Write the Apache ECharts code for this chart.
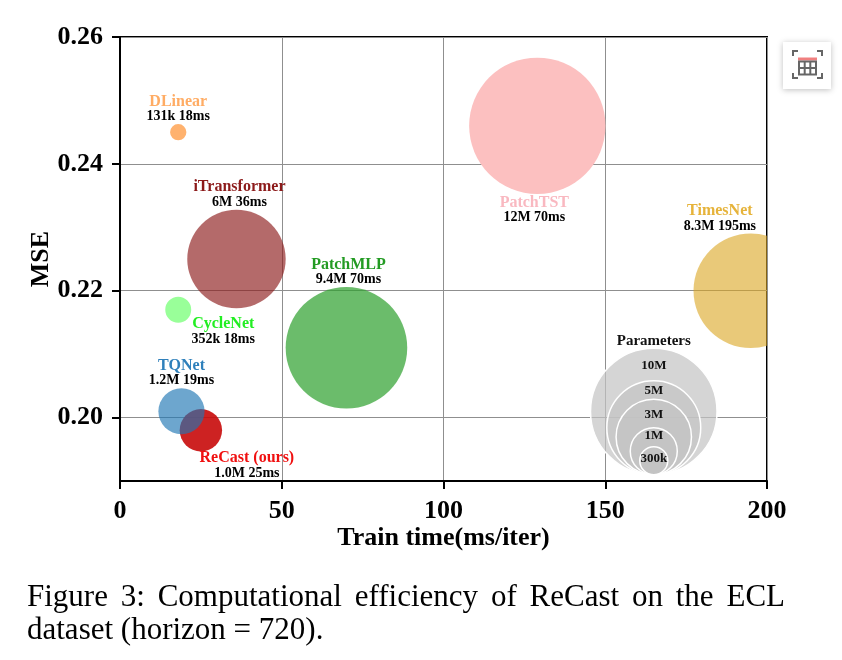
<!DOCTYPE html>
<html lang="en">
  <head>
    <meta charset="UTF-8" />
    <meta name="viewport" content="width=device-width, initial-scale=1.0" />
    <title>ReCast efficiency</title>
    <script src="https://cdn.jsdelivr.net/npm/echarts@6.0.0/dist/echarts.min.js"></script>
    <style>
      html, body { margin: 0; padding: 0; background: #fff; }
    </style>
  </head>
  <body>
    <div id="main" style="width: 842px; height: 660px"></div>
    <script type="text/javascript">
      // values
      var models = ["DLinear", "iTransformer", "CycleNet", "ReCast (ours)", "TQNet", "PatchMLP", "PatchTST", "TimesNet"];
      var trainTime = [18, 36, 18, 25, 19, 70, 129, 195]; // where the bubble sits on x
      var mse = [0.245, 0.225, 0.217, 0.198, 0.201, 0.211, 0.246, 0.22];
      var paramsM = [0.131, 6, 0.352, 1.0, 1.2, 9.4, 12, 8.3];
      var paramText = ["131k", "6M", "352k", "1.0M", "1.2M", "9.4M", "12M", "8.3M"];
      var timeText = ["18ms", "36ms", "18ms", "25ms", "19ms", "70ms", "70ms", "195ms"];

      var legendParamsM = [10, 5, 3, 1, 0.3];
      var legendText = ["10M", "5M", "3M", "1M", "300k"];
      var legendAt = [165, 0.191];

      var xTicks = [0, 50, 100, 150, 200];
      var yTicks = [0.2, 0.22, 0.24, 0.26];

      var captionLine1 = "Figure 3: Computational efficiency of ReCast on the ECL";
      var captionLine2 = "dataset (horizon = 720).";

      var FONT = '"Liberation Serif", "Times New Roman", serif';
      var CAP_FONT = '31px "Liberation Serif"';

      var bubbleColor = {
        "DLinear": "rgba(255,127,14,0.6)",
        "iTransformer": "rgba(140,26,26,0.65)",
        "CycleNet": "rgba(0,255,0,0.4)",
        "ReCast (ours)": "rgba(200,10,10,0.9)",
        "TQNet": "rgba(31,119,180,0.65)",
        "PatchMLP": "rgba(44,160,44,0.7)",
        "PatchTST": "#fcc0c0",
        "TimesNet": "rgba(218,165,32,0.6)"
      };
      var labelColor = {
        "DLinear": "#ffac64",
        "iTransformer": "#8c1a1a",
        "CycleNet": "#22ee22",
        "ReCast (ours)": "#f01010",
        "TQNet": "#2f80bb",
        "PatchMLP": "#239b23",
        "PatchTST": "#f9b8c0",
        "TimesNet": "#e6b33a"
      };
      // where the label block sits relative to the bubble: side, x nudge, y nudge (px)
      var labelPlace = {
        "DLinear": ["top", 0, 0],
        "iTransformer": ["top", 3, 0],
        "CycleNet": ["below", 45, -1],
        "ReCast (ours)": ["below", 46, 4],
        "TQNet": ["top", 0, 0],
        "PatchMLP": ["top", 2, 0],
        "PatchTST": ["bottom", -3, 0],
        "TimesNet": ["top", -31, 0]
      };

      function bubbleD(p) { return 42.4 * Math.pow(p, 0.47); }
      function legendD(p) { return 47 * Math.pow(p, 0.43); }

      // first caption line is justified like the paper column
      function justifiedWords(text, left, right, y) {
        var ctx = document.createElement("canvas").getContext("2d");
        ctx.font = CAP_FONT;
        var words = text.split(" ");
        var widths = words.map(function (w) { return ctx.measureText(w).width; });
        var total = widths.reduce(function (a, b) { return a + b; }, 0);
        var gap = (right - left - total) / (words.length - 1);
        var x = left;
        return words.map(function (w, i) {
          var el = {
            type: "text", x: x, y: y,
            style: { text: w, font: CAP_FONT, fill: "#000", verticalAlign: "middle" }
          };
          x += widths[i] + gap;
          return el;
        });
      }

      var myChart = echarts.init(document.getElementById("main"));

      var option = {
        backgroundColor: "#fff",
        animation: false,
        grid: {
          left: 120, right: 75, top: 37, bottom: 179,
          show: true, borderColor: "#000", borderWidth: 2,
          outerBoundsMode: "none"
        },
        xAxis: {
          type: "value",
          min: 0, max: 200, interval: 50,
          name: "Train time(ms/iter)",
          nameLocation: "middle",
          nameGap: 44,
          nameMoveOverlap: false,
          nameTextStyle: { fontFamily: FONT, fontWeight: "bold", fontSize: 26, color: "#000" },
          axisLine: { show: true, onZero: false, lineStyle: { color: "#000", width: 2 } },
          axisTick: { show: true, length: 8, lineStyle: { color: "#000", width: 2 } },
          axisLabel: { margin: 17, fontFamily: FONT, fontWeight: "bold", fontSize: 26, color: "#000" },
          splitLine: { show: true, lineStyle: { color: "#8f8f8f", width: 1 } }
        },
        yAxis: {
          type: "value",
          min: 0.19, max: 0.26,
          name: "MSE",
          nameLocation: "middle",
          nameGap: 66,
          nameMoveOverlap: false,
          nameTextStyle: { fontFamily: FONT, fontWeight: "bold", fontSize: 26, color: "#000" },
          axisLine: { show: true, onZero: false, lineStyle: { color: "#000", width: 2 } },
          axisTick: { show: true, length: 8, customValues: yTicks, lineStyle: { color: "#000", width: 2 } },
          axisLabel: {
            margin: 17, customValues: yTicks,
            fontFamily: FONT, fontWeight: "bold", fontSize: 26, color: "#000",
            formatter: function (v) { return v.toFixed(2); }
          },
          splitLine: { show: true, lineStyle: { color: "#8f8f8f", width: 1 } }
        },
        series: [
          {
            name: "models",
            type: "custom",
            clip: true,
            data: trainTime.map(function (x, i) { return [x, mse[i], paramsM[i]]; }),
            encode: { x: 0, y: 1 },
            renderItem: function (params, api) {
              var i = params.dataIndex;
              var name = models[i];
              var c = api.coord([api.value(0), api.value(1)]);
              var r = bubbleD(api.value(2)) / 2;
              var place = labelPlace[name];
              var dy = place[0] === "top" ? -(r + 15) : place[0] === "bottom" ? r + 16 : r + 10;
              return {
                type: "group",
                children: [
                  {
                    type: "circle",
                    shape: { cx: c[0], cy: c[1], r: r },
                    style: { fill: bubbleColor[name] }
                  },
                  {
                    type: "text",
                    z2: 100,
                    style: {
                      x: c[0] + place[1],
                      y: c[1] + dy + place[2],
                      align: "center",
                      verticalAlign: "middle",
                      text: "{n|" + name + "}\n{v|" + paramText[i] + " " + timeText[i] + "}",
                      rich: {
                        n: { fontFamily: FONT, fontWeight: "bold", fontSize: 16, lineHeight: 15, fill: labelColor[name], align: "center" },
                        v: { fontFamily: FONT, fontWeight: "bold", fontSize: 14, lineHeight: 15, fill: "#000", align: "center" }
                      }
                    }
                  }
                ]
              };
            }
          },
          {
            name: "size legend",
            type: "custom",
            clip: true,
            data: legendParamsM.map(function (p) { return [legendAt[0], legendAt[1], p]; }),
            encode: { x: 0, y: 1 },
            renderItem: function (params, api) {
              var i = params.dataIndex;
              var b = api.coord([api.value(0), api.value(1)]);
              var d = legendD(api.value(2));
              var top = b[1] - d;
              // label sits in the band between this ring and the next one inside it
              var ly = i < legendParamsM.length - 1
                ? (top + (b[1] - legendD(legendParamsM[i + 1]))) / 2 + 1
                : top + 12;
              if (i === 3) ly -= 3;
              var kids = [
                {
                  type: "circle",
                  shape: { cx: b[0], cy: b[1] - d / 2, r: d / 2 },
                  style: { fill: "rgba(195,195,195,0.7)", stroke: "#fff", lineWidth: 1.5 }
                },
                {
                  type: "text",
                  z2: 100,
                  style: {
                    x: b[0], y: ly, align: "center", verticalAlign: "middle",
                    text: legendText[i],
                    fontFamily: FONT, fontWeight: "bold", fontSize: 13, fill: "#111"
                  }
                }
              ];
              if (i === 0) {
                kids.push({
                  type: "text",
                  z2: 100,
                  style: {
                    x: b[0], y: top - 7, align: "center", verticalAlign: "middle",
                    text: "Parameters",
                    fontFamily: FONT, fontWeight: "bold", fontSize: 15, fill: "#111"
                  }
                });
              }
              return { type: "group", children: kids };
            }
          }
        ],
        graphic: [
          {
            type: "group",
            right: 11,
            top: 42,
            children: [
              { type: "rect", shape: { x: 0, y: 0, width: 48, height: 47 },
                style: { fill: "#fff", shadowBlur: 6, shadowColor: "rgba(0,0,0,0.25)", shadowOffsetY: 1 } },
              { type: "polyline", shape: { points: [[10, 14], [10, 9], [15, 9]] }, style: { stroke: "#666", lineWidth: 2, fill: null } },
              { type: "polyline", shape: { points: [[34, 9], [39, 9], [39, 14]] }, style: { stroke: "#666", lineWidth: 2, fill: null } },
              { type: "polyline", shape: { points: [[10, 31], [10, 36], [15, 36]] }, style: { stroke: "#666", lineWidth: 2, fill: null } },
              { type: "polyline", shape: { points: [[34, 36], [39, 36], [39, 31]] }, style: { stroke: "#666", lineWidth: 2, fill: null } },
              { type: "rect", shape: { x: 15, y: 15.5, width: 19, height: 3 }, style: { fill: "#f08080" } },
              { type: "rect", shape: { x: 16, y: 19.5, width: 17, height: 13 }, style: { stroke: "#666", lineWidth: 2, fill: null } },
              { type: "line", shape: { x1: 21.7, y1: 19.5, x2: 21.7, y2: 32.5 }, style: { stroke: "#666", lineWidth: 2 } },
              { type: "line", shape: { x1: 27.3, y1: 19.5, x2: 27.3, y2: 32.5 }, style: { stroke: "#666", lineWidth: 2 } },
              { type: "line", shape: { x1: 16, y1: 26, x2: 33, y2: 26 }, style: { stroke: "#666", lineWidth: 2 } }
            ]
          },
          {
            type: "group",
            children: justifiedWords(captionLine1, 27, 785, 598).concat([
              {
                type: "text", x: 27, y: 631,
                style: { text: captionLine2, font: CAP_FONT, fill: "#000", verticalAlign: "middle" }
              }
            ])
          }
        ]
      };
      myChart.setOption(option);
    </script>
  </body>
</html>
